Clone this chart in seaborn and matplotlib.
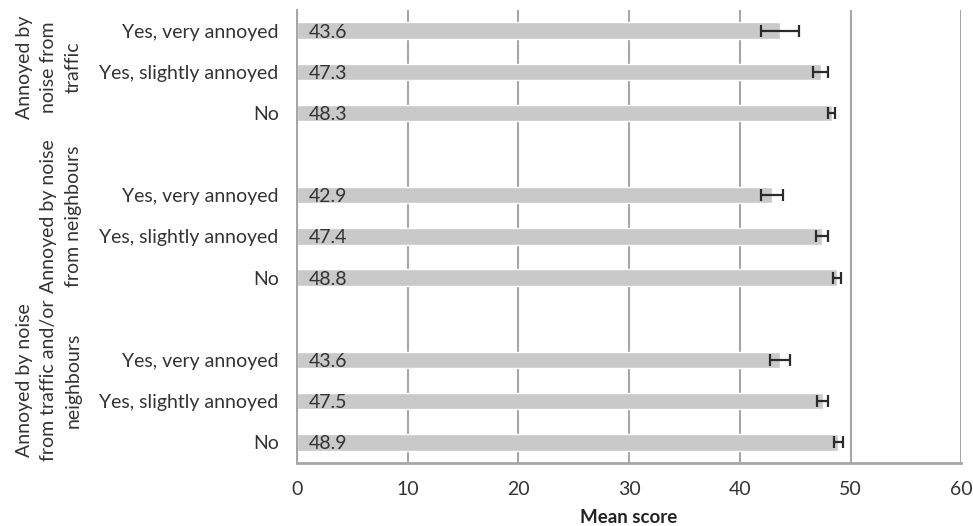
import matplotlib
matplotlib.use("Agg")
import matplotlib.pyplot as plt
import seaborn as sns
import pandas as pd
import numpy as np

# ---- data ----
categories = ["Yes, very annoyed", "Yes, slightly annoyed", "No",
              "Yes, very annoyed", "Yes, slightly annoyed", "No",
              "Yes, very annoyed", "Yes, slightly annoyed", "No"]
groups = ["Annoyed by\nnoise from\ntraffic",
          "Annoyed by noise\nfrom neighbours",
          "Annoyed by noise\nfrom traffic and/or\nneighbours"]
mean_scores = [43.6, 47.3, 48.3, 42.9, 47.4, 48.8, 43.6, 47.5, 48.9]
errors = [1.7, 0.7, 0.3, 1.0, 0.55, 0.38, 0.9, 0.5, 0.4]
slot_positions = [0, 1, 2, 4, 5, 6, 8, 9, 10]
group_centers = [0.9, 4.5, 8.5]
x_ticks = [0, 10, 20, 30, 40, 50, 60]

sns.set_theme(style="white")
plt.rcParams['font.family'] = ['Lato', 'DejaVu Sans']

df = pd.DataFrame({"score": mean_scores, "pos": slot_positions})

fig = plt.figure(figsize=(9.73, 5.26), dpi=100)
ax = fig.add_axes([0.305, 0.120, 0.683, 0.861])

sns.barplot(data=df, x="score", y="pos", orient="h", native_scale=True,
            color="#c9c9c9", saturation=1, width=0.4, ax=ax, zorder=2,
            errorbar=None)
ax.errorbar(mean_scores, slot_positions, xerr=errors, fmt="none",
            ecolor="#2b2b2b", elinewidth=1.6, capsize=4.5, capthick=1.6, zorder=3)

for v, p in zip(mean_scores, slot_positions):
    ax.text(1.1, p, f"{v:.1f}", va="center_baseline", ha="left", fontsize=14,
            color="#333333", zorder=4)

ax.set_xlim(0, 60)
ax.set_ylim(10.5, -0.5)
ax.set_xticks(x_ticks)
ax.set_xticklabels([str(t) for t in x_ticks], fontsize=14, color="#333333")
ax.set_yticks(slot_positions)
ax.set_yticklabels(categories, fontsize=14, color="#333333")
ax.tick_params(axis="y", length=0, pad=13)
ax.tick_params(axis="x", length=6, width=1.5, color="#a6a6a6", pad=7, direction="out")
ax.xaxis.grid(True, color="#a6a6a6", linewidth=1.5, zorder=0)
ax.set_axisbelow(True)
for s in ["top", "right"]:
    ax.spines[s].set_visible(False)
ax.spines["left"].set_color("#a6a6a6")
ax.spines["left"].set_linewidth(1.5)
ax.spines["bottom"].set_color("#a6a6a6")
ax.spines["bottom"].set_linewidth(2)
ax.set_xlabel("Mean score", fontsize=13.5, fontweight="bold", color="#222222", labelpad=8)
ax.set_ylabel("")

ytrans = ax.get_yaxis_transform()
for g, c in zip(groups, group_centers):
    ax.text(-0.323, c, g, rotation=90, ha="right", va="center",
            multialignment="center", fontsize=14, color="#333333",
            transform=ytrans, linespacing=1.55)

fig.savefig("out.png", dpi=100)
